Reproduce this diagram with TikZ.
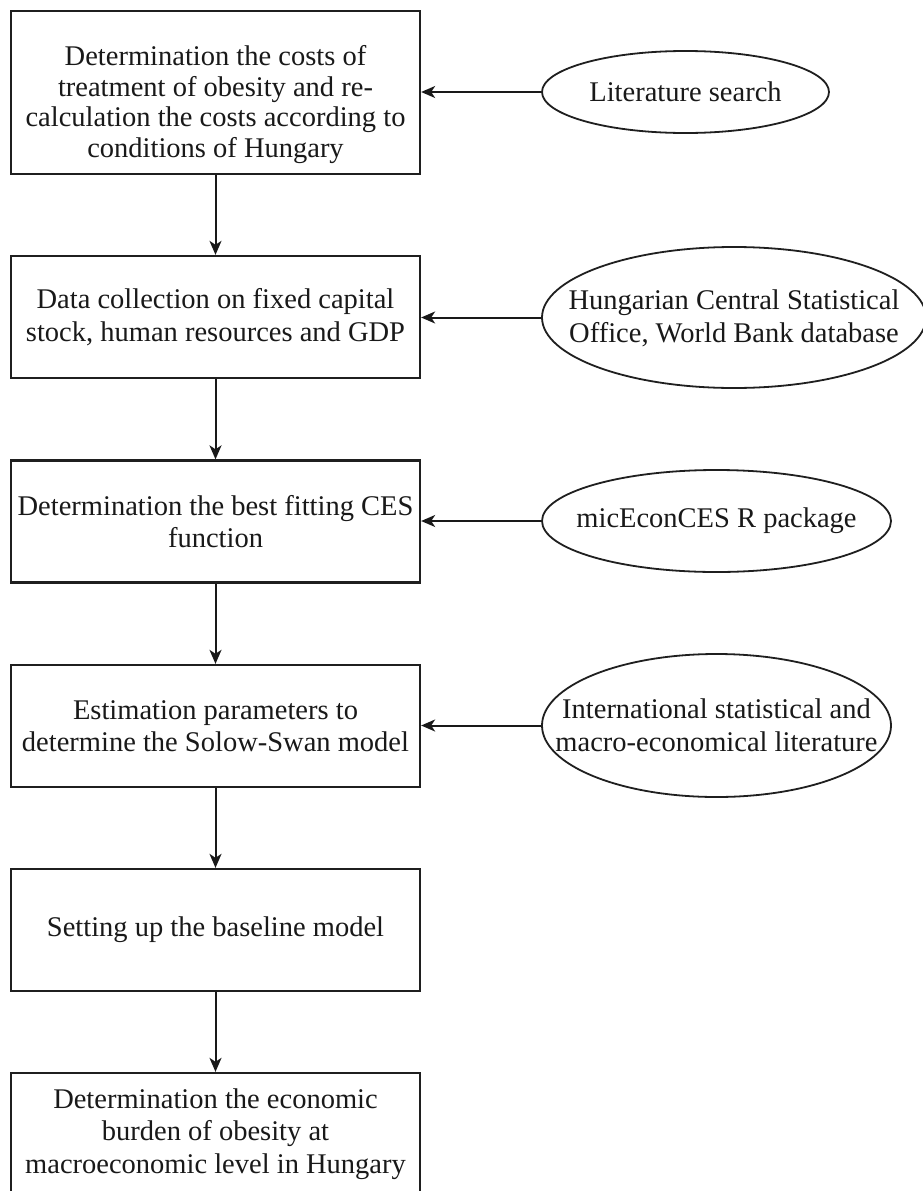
\documentclass[tikz,border=0pt]{standalone}
\usepackage{fontspec}
\setmainfont{Liberation Serif}
\usetikzlibrary{shapes.geometric,arrows.meta}
\begin{document}
\begin{tikzpicture}[x=1pt,y=-1pt,
  stepbox/.style={draw=black!88, line width=2.3pt, rectangle, minimum width=409pt,
    minimum height=122pt, inner sep=0pt, align=center, text=black!90,
    font=\fontsize{28.5}{32.5}\selectfont},
  boxtext/.style={inner sep=0pt, align=center, text=black!90,
    font=\fontsize{28.5}{30.7}\selectfont},
  srcell/.style={draw=black!88, ellipse, line width=1.8pt, inner sep=0pt},
  srctext/.style={inner sep=0pt, align=center, text=black!90,
    font=\fontsize{28.5}{33}\selectfont},
  flow/.style={draw=black!90, line width=2pt,
    -{Stealth[length=14pt,width=12pt,inset=4pt]}}]
\useasboundingbox[fill=white] (0,0) rectangle (922,1191);

% process steps
\node[stepbox, minimum height=163pt] (b1) at (215.5,92.5) {};
\node[boxtext] (b1t) at ([yshift=-12pt]b1.center)
  {Determination the costs of\\treatment of obesity and re-\\calculation the costs according to\\conditions of Hungary};
\node[stepbox] (b2) at (215.5,317) {Data collection on fixed capital\\stock, human resources and GDP};
\node[stepbox] (b3) at (215.5,521.5) {Determination the best fitting CES\\function};
\node[stepbox] (b4) at (215.5,726) {Estimation parameters to\\determine the Solow-Swan model};
\node[stepbox] (b5) at (215.5,930) {Setting up the baseline model};
\node[stepbox] (b6) at (215.5,1134) {Determination the economic\\burden of obesity at\\macroeconomic level in Hungary};

% data sources
\node[srcell, minimum width=287pt, minimum height=82pt] (e1) at (685.5,92) {};
\node[srctext] (e1t) at (e1.center) {Literature search};
\node[srcell, minimum width=384pt, minimum height=141pt] (e2) at (734,317.5) {};
\node[srctext] (e2t) at ([yshift=-1pt]e2.center) {Hungarian Central Statistical\\Office, World Bank database};
\node[srcell, minimum width=349pt, minimum height=102pt] (e3) at (716.5,521) {};
\node[srctext] (e3t) at (e3.center) {micEconCES R package};
\node[srcell, minimum width=349pt, minimum height=143pt] (e4) at (716.5,725.5) {};
\node[srctext] (e4t) at (e4.center) {International statistical and\\macro-economical literature};

% main flow
\draw[flow] (b1) -- (b2);
\draw[flow] (b2) -- (b3);
\draw[flow] (b3) -- (b4);
\draw[flow] (b4) -- (b5);
\draw[flow] (b5) -- (b6);

% inputs
\draw[flow] (e1.west) -- (e1.west -| b1.east);
\draw[flow] (e2.west) -- (e2.west -| b2.east);
\draw[flow] (e3.west) -- (e3.west -| b3.east);
\draw[flow] (e4.west) -- (e4.west -| b4.east);
\end{tikzpicture}
\end{document}
